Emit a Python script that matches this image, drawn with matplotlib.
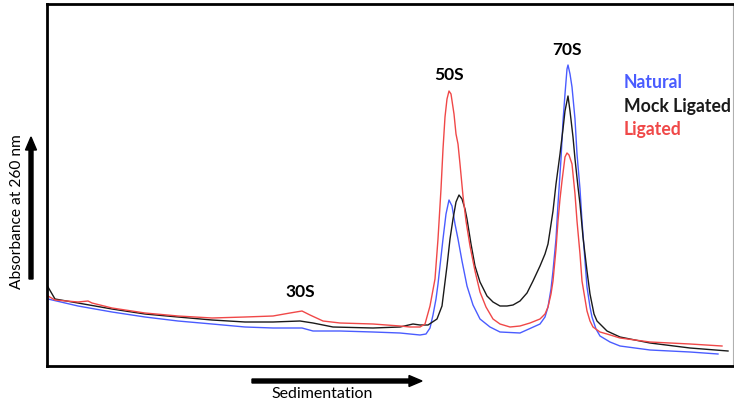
import matplotlib
matplotlib.use("Agg")
import matplotlib.pyplot as plt
from matplotlib.patches import FancyArrow
from matplotlib.transforms import IdentityTransform

# Sedimentation position (arbitrary units) and absorbance at 260 nm (arbitrary units)
natural_x = [1, 31, 65, 98, 131, 165, 198, 226, 255, 266, 293, 326, 353, 373, 379, 383, 386, 389, 391, 393,
             396, 399, 402, 405, 408, 411, 415, 420, 426, 433, 443, 453, 473, 493, 498, 501, 504, 506, 509,
             511, 514, 516, 518, 520, 521, 523, 525, 528, 530, 533, 535, 538, 540, 543, 545, 549, 553, 563,
             573, 603, 643, 671]
natural_y = [0.67, 0.60, 0.54, 0.49, 0.45, 0.42, 0.39, 0.38, 0.38, 0.35, 0.35, 0.34, 0.33, 0.31, 0.32, 0.38,
             0.51, 0.67, 0.82, 1.00, 1.27, 1.52, 1.66, 1.60, 1.42, 1.27, 1.05, 0.80, 0.61, 0.47, 0.39, 0.34,
             0.33, 0.42, 0.49, 0.59, 0.77, 0.95, 1.27, 1.62, 2.07, 2.45, 2.72, 2.97, 3.01, 2.92, 2.79, 2.47,
             2.12, 1.77, 1.45, 1.05, 0.79, 0.59, 0.49, 0.37, 0.30, 0.24, 0.20, 0.16, 0.14, 0.12]

mock_x = [1, 8, 31, 65, 98, 131, 165, 198, 226, 253, 266, 286, 326, 353, 366, 373, 381, 390, 395, 400, 403,
          406, 409, 412, 415, 418, 420, 424, 428, 433, 440, 446, 453, 460, 466, 473, 480, 486, 493, 498, 501,
          503, 506, 509, 513, 516, 518, 521, 523, 526, 528, 531, 533, 536, 540, 543, 547, 550, 560, 573, 603,
          643, 681]
mock_y = [0.79, 0.67, 0.63, 0.57, 0.52, 0.49, 0.46, 0.44, 0.44, 0.45, 0.43, 0.39, 0.38, 0.39, 0.42, 0.41,
          0.41, 0.47, 0.60, 1.00, 1.27, 1.47, 1.64, 1.71, 1.67, 1.57, 1.47, 1.22, 1.00, 0.84, 0.70, 0.64,
          0.60, 0.60, 0.61, 0.65, 0.73, 0.85, 1.00, 1.12, 1.22, 1.35, 1.55, 1.82, 2.12, 2.37, 2.55, 2.70,
          2.55, 2.29, 2.07, 1.79, 1.62, 1.29, 0.95, 0.72, 0.52, 0.45, 0.35, 0.29, 0.23, 0.18, 0.15]

ligated_x = [1, 8, 31, 41, 45, 65, 98, 131, 165, 198, 226, 243, 255, 263, 276, 293, 326, 353, 363, 373, 378,
             383, 388, 391, 394, 396, 398, 400, 402, 404, 407, 409, 411, 413, 416, 419, 423, 428, 433, 439,
             446, 453, 463, 473, 483, 493, 498, 501, 504, 506, 509, 511, 513, 515, 518, 520, 522, 525, 528,
             530, 533, 535, 538, 540, 543, 546, 553, 560, 573, 603, 643, 675]
ligated_y = [0.70, 0.66, 0.64, 0.65, 0.63, 0.58, 0.53, 0.50, 0.48, 0.49, 0.50, 0.53, 0.55, 0.51, 0.45, 0.43,
             0.42, 0.40, 0.39, 0.39, 0.42, 0.60, 0.87, 1.27, 1.77, 2.17, 2.49, 2.67, 2.75, 2.72, 2.52, 2.32,
             2.22, 2.02, 1.70, 1.45, 1.20, 0.95, 0.74, 0.59, 0.47, 0.42, 0.39, 0.40, 0.43, 0.47, 0.52, 0.59,
             0.72, 0.85, 1.17, 1.45, 1.67, 1.85, 2.09, 2.13, 2.11, 2.02, 1.72, 1.45, 1.12, 0.85, 0.67, 0.55,
             0.45, 0.39, 0.34, 0.32, 0.28, 0.24, 0.22, 0.20]

series_names = ["Natural", "Mock Ligated", "Ligated"]
peak_labels = ["30S", "50S", "70S"]

BLUE = "#4a5cff"
BLACK = "#1a1a1a"
RED = "#f04848"

plt.rcParams['font.family'] = ['Lato', 'DejaVu Sans']

fig = plt.figure(figsize=(7.34, 4.02), dpi=100)
ax = fig.add_axes([47 / 734, 35 / 402, 686 / 734, 362 / 402])

ax.plot(natural_x, natural_y, color=BLUE, lw=1.0)
ax.plot(mock_x, mock_y, color=BLACK, lw=1.0)
ax.plot(ligated_x, ligated_y, color=RED, lw=1.0)

ax.set_xlim(0, 686)
ax.set_ylim(0, 3.62)
ax.set_xticks([])
ax.set_yticks([])
for s in ["left", "top", "bottom"]:
    ax.spines[s].set_linewidth(2.0)
    ax.spines[s].set_color("black")
ax.spines["right"].set_linewidth(0.8)
ax.spines["right"].set_color("#b0b0b0")

# peak labels
ax.text(253, 0.75, peak_labels[0], ha="center", va="center", fontsize=12.5, fontweight="bold")
ax.text(402, 2.92, peak_labels[1], ha="center", va="center", fontsize=12.5, fontweight="bold")
ax.text(520, 3.17, peak_labels[2], ha="center", va="center", fontsize=12.5, fontweight="bold")

# legend as coloured text
for name, col, yy in zip(series_names, [BLUE, BLACK, RED], [2.84, 2.60, 2.37]):
    ax.text(577, yy, name, color=col, ha="left", va="center", fontsize=12.7, fontweight="bold")

# axis labels with arrows
fig.text(17 / 734, (402 - 212) / 402, "Absorbance at 260 nm", rotation=90, ha="center", va="center",
         fontsize=11.2)
fig.text(322 / 734, 8 / 402, "Sedimentation", ha="center", va="center", fontsize=11.5)

fig.add_artist(FancyArrow(31, 122, 0, 142, width=4, head_width=11, head_length=13,
                          length_includes_head=True, color="black", transform=IdentityTransform()))
fig.add_artist(FancyArrow(252, 20, 170, 0, width=4, head_width=11, head_length=13,
                          length_includes_head=True, color="black", transform=IdentityTransform()))

fig.savefig("out.png", dpi=100)
